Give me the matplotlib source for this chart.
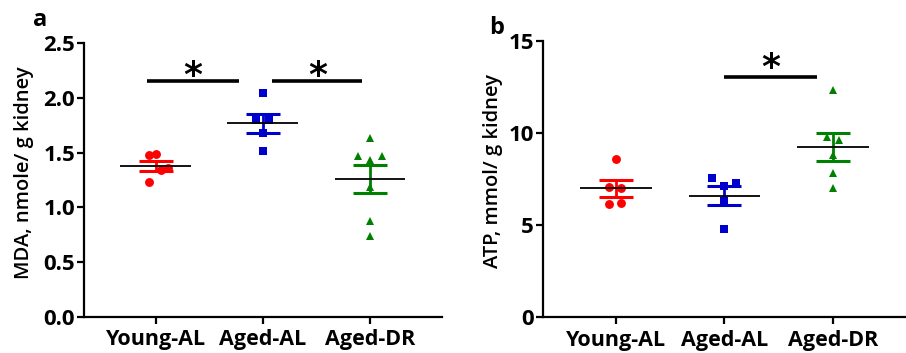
import numpy as np
import matplotlib
matplotlib.use("Agg")
import matplotlib.pyplot as plt

plt.rcParams['font.family'] = ['Open Sans', 'DejaVu Sans']

groups = ["Young-AL", "Aged-AL", "Aged-DR"]
colors = ["#ff0000", "#0000cc", "#008000"]
markers = ["o", "s", "^"]

# Panel a: MDA, nmole/ g kidney
mda_young_al = [1.48, 1.485, 1.34, 1.36, 1.235]
mda_aged_al = [2.04, 1.80, 1.80, 1.68, 1.515]
mda_aged_dr = [1.63, 1.465, 1.465, 1.43, 1.19, 0.875, 0.74]

# Panel b: ATP, mmol/ g kidney
atp_young_al = [8.57, 7.09, 7.0, 6.13, 6.19]
atp_aged_al = [7.54, 7.27, 7.14, 6.31, 4.77]
atp_aged_dr = [12.33, 9.8, 9.62, 8.81, 7.81, 7.03]

mda_yticks = [0.0, 0.5, 1.0, 1.5, 2.0, 2.5]
atp_yticks = [0, 5, 10, 15]

# significance comparisons: (x start, x end, height)
mda_sig = [(0.92, 1.78, 2.15), (2.09, 2.93, 2.15)]
atp_sig = [(2.0, 2.85, 13.05)]

# horizontal jitter of points (layout)
mda_jit = [[-0.06, 0.0, 0.05, 0.11, -0.06],
           [0.0, -0.06, 0.056, 0.0, 0.0],
           [0.0, -0.115, 0.11, 0.0, 0.0, 0.0, 0.0]]
atp_jit = [[0.0, -0.06, 0.05, -0.06, 0.05],
           [-0.114, 0.107, 0.0, 0.0, 0.0],
           [0.0, -0.06, 0.056, 0.0, 0.0, 0.0]]

fig = plt.figure(figsize=(9.06, 3.53), dpi=100)
axa = fig.add_axes([0.0927, 0.102, 0.3948, 0.776])
axb = fig.add_axes([0.5993, 0.101, 0.4007, 0.783])

msizes = [6.4, 5.8, 6.0]


def draw(ax, data, jit, sig, yticks, ylim, ylabel, ticklabfmt, star_dy):
    xs = np.arange(1, len(groups) + 1)
    for i, (vals, c, m) in enumerate(zip(data, colors, markers)):
        v = np.array(vals)
        x = xs[i] + np.array(jit[i])
        ax.plot(x, v, linestyle='none', marker=m, color=c,
                markersize=msizes[i], markeredgewidth=0, zorder=3)
        mean = v.mean()
        sem = v.std(ddof=1) / np.sqrt(len(v))
        ax.errorbar([xs[i]], [mean], yerr=[sem], color=c, capsize=12.5,
                    capthick=2.2, elinewidth=2.0, fmt='none', zorder=4)
        ax.plot([xs[i] - 0.33, xs[i] + 0.33], [mean, mean], color='black',
                lw=1.3, zorder=5, solid_capstyle='butt')
    for (x0, x1, h) in sig:
        ax.plot([x0, x1], [h, h], color='black', lw=2.6,
                solid_capstyle='butt', clip_on=False)
        ax.annotate("*", xy=((x0 + x1) / 2, h), xytext=(0, star_dy),
                    textcoords='offset points', ha='center', va='bottom',
                    fontsize=26, fontweight='bold', family='DejaVu Sans')
    ax.set_xlim(0.33, 3.67)
    ax.set_ylim(*ylim)
    ax.set_xticks(xs)
    ax.set_xticklabels(groups, fontsize=15.5, fontweight='bold')
    ax.set_yticks(yticks)
    ax.set_yticklabels([ticklabfmt.format(t) for t in yticks],
                       fontsize=16, fontweight='bold')
    for s in ['top', 'right']:
        ax.spines[s].set_visible(False)
    for s in ['left', 'bottom']:
        ax.spines[s].set_linewidth(1.6)
    ax.tick_params(axis='both', width=1.6, length=5, pad=1.5)
    ax.tick_params(axis='x', pad=4)
    ax.set_ylabel(ylabel, fontsize=14.5, fontweight='semibold')


draw(axa, [mda_young_al, mda_aged_al, mda_aged_dr], mda_jit, mda_sig,
     mda_yticks, (0, 2.5), "MDA, nmole/ g kidney", "{:.1f}", -8)
draw(axb, [atp_young_al, atp_aged_al, atp_aged_dr], atp_jit, atp_sig,
     atp_yticks, (0, 15), "ATP, mmol/ g kidney", "{:d}", -5.5)

axa.yaxis.set_label_coords(34 / 906, 1 - 172.5 / 353, transform=fig.transFigure)
axb.yaxis.set_label_coords(503 / 906, 1 - 171.5 / 353, transform=fig.transFigure)

fig.text(40 / 906, 1 - 20 / 353, "a", fontsize=17, fontweight='bold',
         ha='center', va='center')
fig.text(497 / 906, 1 - 28 / 353, "b", fontsize=17, fontweight='bold',
         ha='center', va='center')

fig.savefig("out.png", dpi=100)
